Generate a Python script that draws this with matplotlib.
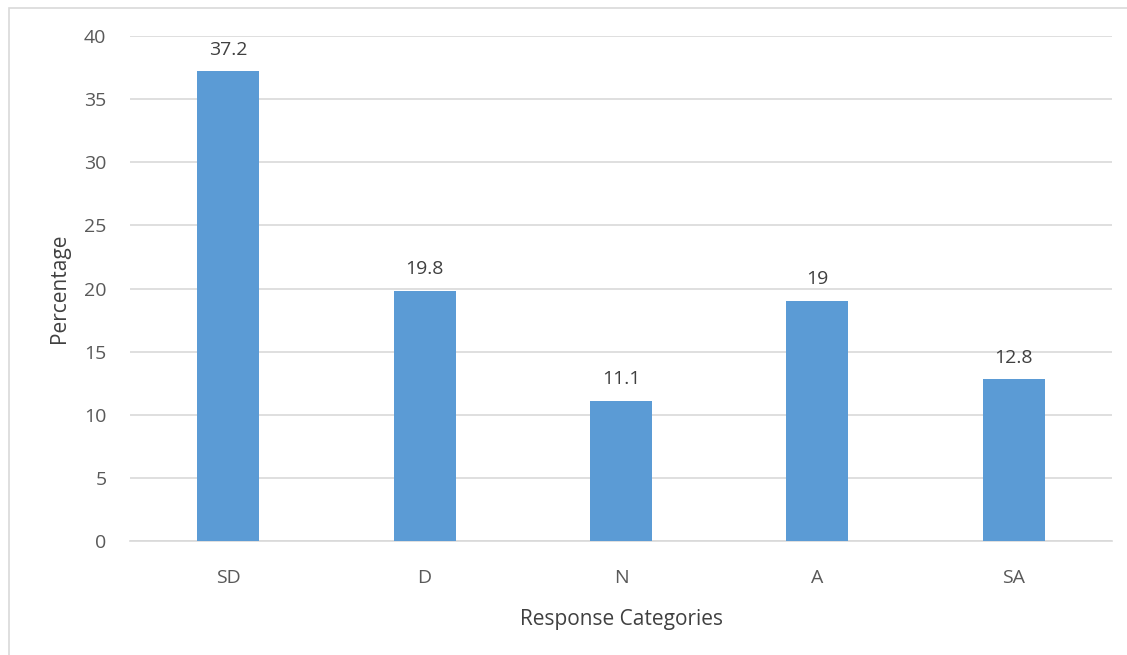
import matplotlib
matplotlib.use("Agg")
import matplotlib.pyplot as plt
from matplotlib.patches import Rectangle

categories = ["SD", "D", "N", "A", "SA"]
values = [37.2, 19.8, 11.1, 19, 12.8]
value_labels = ["37.2", "19.8", "11.1", "19", "12.8"]
yticks = [0, 5, 10, 15, 20, 25, 30, 35, 40]

plt.rcParams['font.family'] = ['Open Sans', 'DejaVu Sans']
txt = '#595959'

W, H = 1127, 655
fig = plt.figure(figsize=(W/100, H/100), dpi=100)
ax = fig.add_axes([130/W, 1-541/H, (1112-130)/W, (541-36)/H])

x = list(range(len(categories)))
ax.bar(x, values, width=0.316, color='#5B9BD5', zorder=3)
for xi, v, lab in zip(x, values, value_labels):
    ax.text(xi, v + 1.0, lab, ha='center', va='bottom', fontsize=14, color='#404040')

ax.set_xlim(-0.5, len(categories) - 0.5)
ax.set_ylim(0, 40)
ax.set_yticks(yticks)
ax.set_xticks(x)
ax.set_xticklabels(categories)
ax.tick_params(axis='both', length=0, labelsize=14, colors=txt)
ax.tick_params(axis='y', pad=17)
ax.tick_params(axis='x', pad=20)
ax.grid(axis='y', color='#D9D9D9', linewidth=1.2, zorder=0)
for s in ['top', 'right', 'left']:
    ax.spines[s].set_visible(False)
ax.spines['bottom'].set_color('#D9D9D9')
ax.spines['bottom'].set_linewidth(1.2)

ax.set_xlabel("Response Categories", fontsize=15, color='#404040', labelpad=16)
ax.set_ylabel("Percentage", fontsize=15, color='#404040', labelpad=10)

fig.patches.append(Rectangle((9/W, -0.1), 1.2, 1-8/H + 0.1, transform=fig.transFigure,
                             fill=False, edgecolor='#D9D9D9', linewidth=1.2))

fig.savefig("out.png", dpi=100)
